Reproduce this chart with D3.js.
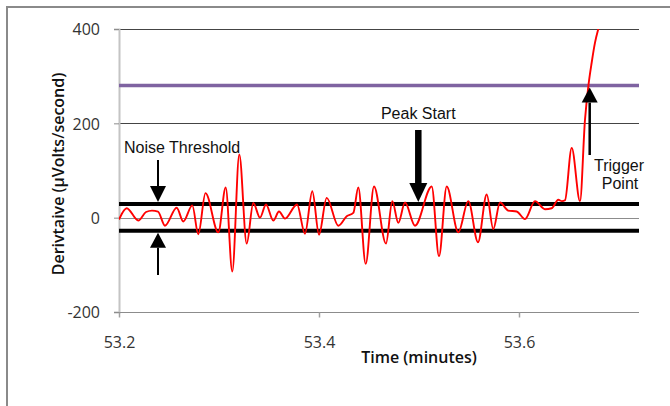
<!DOCTYPE html>
<html>
<head>
<meta charset="utf-8">
<script src="https://cdn.jsdelivr.net/npm/d3@7"></script>
<style>
  html, body { margin: 0; padding: 0; background: #fff; }
  svg { display: block; }
  .tick text { font-family: "Open Sans", Lato, sans-serif; font-size: 16px; fill: #333; }
  .note { font-family: "Liberation Sans", Arial, sans-serif; font-size: 16px; fill: #111; }
  .title { font-family: "Open Sans", Lato, sans-serif; font-size: 16px; font-weight: 600; fill: #111; }
</style>
</head>
<body>
<script>
// Derivative of the detector signal around the peak start
const timeMinutes = [
  53.2000, 53.2077, 53.2193, 53.2270, 53.2330, 53.2390, 53.2460, 53.2577, 53.2643, 53.2733,
  53.2793, 53.2865, 53.2993, 53.3067, 53.3133, 53.3203, 53.3277, 53.3343, 53.3410, 53.3470,
  53.3543, 53.3600, 53.3660, 53.3780, 53.3860, 53.3933, 53.4000, 53.4077, 53.4193, 53.4277,
  53.4343, 53.4393, 53.4467, 53.4550, 53.4670, 53.4733, 53.4793, 53.4860, 53.4960, 53.5127,
  53.5200, 53.5277, 53.5393, 53.5493, 53.5590, 53.5677, 53.5743, 53.5810, 53.5893, 53.5977,
  53.6060, 53.6160, 53.6260, 53.6327, 53.6393, 53.6430, 53.6460, 53.6527, 53.6610, 53.6660,
  53.6693, 53.6727, 53.6760, 53.6793, 53.6820
];
const derivative = [
  -4, 20, -6, 12, 15, 13, -17, 21, -8, 26,
  -35, 52, -31, 64, -114, 134, -55, 31, 0, 28,
  -6, 13, -2, 28, -34, 56, -36, 42, -17, 3,
  10, 64, -98, 66, -55, 35, -11, 32, -17, 66,
  -82, 66, -31, 35, -52, 49, -24, 32, 15, 13,
  -3, 35, 18, 20, 38, 35, 37, 148, 35, 208,
  278, 329, 371, 400, 420
];

// Threshold levels (µVolts/second)
const noiseUpper = 29;
const noiseLower = -28;
const triggerLevel = 280;

// Axis ticks
const yTicks = [-200, 0, 200, 400];
const yTickLabels = ["-200", "0", "200", "400"];
const xTicks = [53.2, 53.4, 53.6];
const xTickLabels = ["53.2", "53.4", "53.6"];
const xDomain = [53.2, 53.72];
const yDomain = [-200, 400];

// Annotation positions in data units
const noiseArrowTime = 53.239;
const peakStartTime = 53.4993;
const triggerTime = 53.6707;

const W = 670, H = 406;
const margin = { left: 119, top: 29, right: 31, bottom: 94 };

const svg = d3.select("body").append("svg")
  .attr("width", W).attr("height", H);

// outer chart frame
svg.append("path")
  .attr("d", `M7,${H + 5} V7 H${W + 5}`)
  .attr("fill", "none").attr("stroke", "#8a8a8a").attr("stroke-width", 2);

const x = d3.scaleLinear().domain(xDomain).range([margin.left, W - margin.right]);
const y = d3.scaleLinear().domain(yDomain).range([H - margin.bottom, margin.top]);

const defs = svg.append("defs");
defs.append("clipPath").attr("id", "plot-clip")
  .append("rect")
  .attr("x", margin.left).attr("y", margin.top)
  .attr("width", W - margin.right - margin.left)
  .attr("height", H - margin.bottom - margin.top);

// horizontal gridlines
svg.append("g").selectAll("line")
  .data(yTicks.filter(d => d !== yDomain[0]))
  .join("line")
  .attr("x1", margin.left).attr("x2", W - margin.right)
  .attr("y1", d => Math.round(y(d)) + 0.5).attr("y2", d => Math.round(y(d)) + 0.5)
  .attr("stroke", d => d === 0 ? "#8c8c8c" : "#444")
  .attr("stroke-width", 1);

// y axis
const yAxis = svg.append("g")
  .attr("transform", `translate(${margin.left},0)`)
  .call(d3.axisLeft(y).tickValues(yTicks).tickSize(5).tickPadding(14)
    .tickFormat((d, i) => yTickLabels[i]));
yAxis.select(".domain").attr("stroke", "#c4c4c4").attr("stroke-width", 2);
yAxis.selectAll(".tick line").attr("stroke", "#8c8c8c");
yAxis.selectAll(".tick text").attr("dy", "0.36em");

// x axis
const xAxis = svg.append("g")
  .attr("transform", `translate(0,${Math.round(y(yDomain[0])) + 0.5})`)
  .call(d3.axisBottom(x).tickValues(xTicks).tickSize(5).tickPadding(19)
    .tickFormat((d, i) => xTickLabels[i]));
xAxis.select(".domain").attr("stroke", "#8c8c8c").attr("stroke-width", 1)
  .attr("d", `M${margin.left},0H${W - margin.right}`);
xAxis.selectAll(".tick line").attr("stroke", "#a0a0a0").attr("stroke-width", 1.5);

// trigger level
svg.append("line")
  .attr("x1", margin.left).attr("x2", W - margin.right)
  .attr("y1", y(triggerLevel)).attr("y2", y(triggerLevel))
  .attr("stroke", "#7f63a1").attr("stroke-width", 3.5);

// noise threshold band edges
svg.append("g").selectAll("line")
  .data([noiseUpper, noiseLower])
  .join("line")
  .attr("x1", margin.left).attr("x2", W - margin.right)
  .attr("y1", d => y(d)).attr("y2", d => y(d))
  .attr("stroke", "#000").attr("stroke-width", 4);

// derivative trace
const pts = timeMinutes.map((t, i) => [t, derivative[i]]);
svg.append("path")
  .datum(pts)
  .attr("clip-path", "url(#plot-clip)")
  .attr("fill", "none")
  .attr("stroke", "#ff0000")
  .attr("stroke-width", 1.9)
  .attr("d", d3.line().x(d => x(d[0])).y(d => y(d[1])).curve(d3.curveMonotoneX));

// arrow helper: shaft from (x0,yFrom) to arrowhead tip at (x0,yTip)
function arrow(x0, yFrom, yTip, shaftW, headW, headH) {
  const dir = yTip > yFrom ? 1 : -1;
  const base = yTip - dir * headH;
  svg.append("line")
    .attr("x1", x0).attr("x2", x0)
    .attr("y1", yFrom).attr("y2", base)
    .attr("stroke", "#000").attr("stroke-width", shaftW);
  svg.append("path")
    .attr("d", `M${x0 - headW / 2},${base} L${x0 + headW / 2},${base} L${x0},${yTip} Z`)
    .attr("fill", "#000");
}

const nx = x(noiseArrowTime);
arrow(nx, 160, y(noiseUpper) - 2, 2, 16, 16);
arrow(nx, 275, y(noiseLower) + 2, 2, 16, 15);
svg.append("text").attr("class", "note")
  .attr("x", 124).attr("y", 153).text("Noise Threshold");

const px = x(peakStartTime);
arrow(px, 130, y(noiseUpper) - 2, 6.5, 18, 19);
svg.append("text").attr("class", "note")
  .attr("x", px).attr("y", 119).attr("text-anchor", "middle").text("Peak Start");

const tx = x(triggerTime);
arrow(tx, 155, y(triggerLevel) + 2, 2.5, 16, 15);
svg.append("text").attr("class", "note")
  .attr("x", 619).attr("y", 171).attr("text-anchor", "middle").text("Trigger");
svg.append("text").attr("class", "note")
  .attr("x", 620).attr("y", 189).attr("text-anchor", "middle").text("Point");

// axis titles
svg.append("text").attr("class", "title")
  .attr("x", 419).attr("y", 363).attr("text-anchor", "middle").text("Time (minutes)");
svg.append("text").attr("class", "title")
  .attr("transform", `translate(64,174) rotate(-90)`)
  .attr("text-anchor", "middle").text("Derivtaive (µVolts/second)");
</script>
</body>
</html>
